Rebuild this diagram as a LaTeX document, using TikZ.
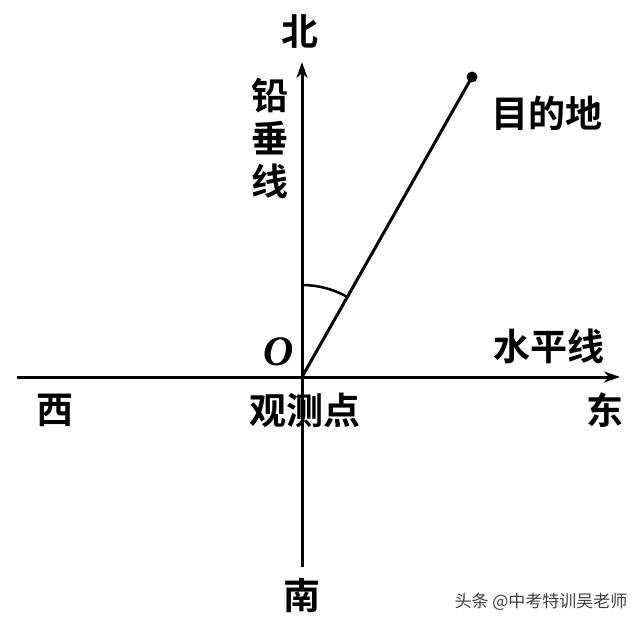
\documentclass[tikz,border=0pt]{standalone}
\usepackage{fontspec}
\setmainfont{Liberation Serif}
\newfontfamily\cjk{Noto Sans CJK SC}[BoldFont={* Bold}]
\usetikzlibrary{arrows.meta}
\begin{document}
\begin{tikzpicture}[x=1pt,y=-1pt,
  axis/.style={line width=3pt,-{Stealth[length=16pt,width=11pt,inset=5pt]}},
  lbl/.style={font=\cjk\bfseries\fontsize{37}{37}\selectfont,inner sep=0pt},
  wm/.style={font=\cjk\fontsize{17}{17}\selectfont,text=black!75,inner sep=0pt}]
\useasboundingbox (0,0) rectangle (640,623);
\coordinate (W) at (17,377);
\coordinate (E) at (620,377);
\coordinate (S) at (302,567);
\coordinate (N) at (302,62);
\coordinate (O) at (302,377);
\draw[axis] (W) -- (E);
\draw[axis] (S) -- (N);
\node[circle,fill=black,inner sep=0pt,minimum size=11pt] (D) at (472,77) {};
\draw[line width=3pt] (O) -- (D.center);
\draw[line width=2.5pt] (O) ++(-90:92) arc[start angle=-90,end angle=-60.5,radius=92];
\node[lbl] (north) at (300,32) {北};
\node[lbl,align=center] (plumb) at (270,138) {铅\\[6pt]垂\\[6pt]线};
\node[lbl] (dest) at (547,113) {目的地};
\node[lbl] (horiz) at (549,346) {水平线};
\node[lbl] (east) at (605,410) {东};
\node[lbl] (west) at (55,410) {西};
\node[lbl] (obs) at (305,410) {观测点};
\node[lbl] (south) at (302,596) {南};
\node[font=\fontsize{42}{42}\selectfont\bfseries\itshape,inner sep=0pt] (Olbl) at (279,352) {O};
\node[wm] (mark) at (541,602) {头条 @中考特训吴老师};
\end{tikzpicture}
\end{document}
